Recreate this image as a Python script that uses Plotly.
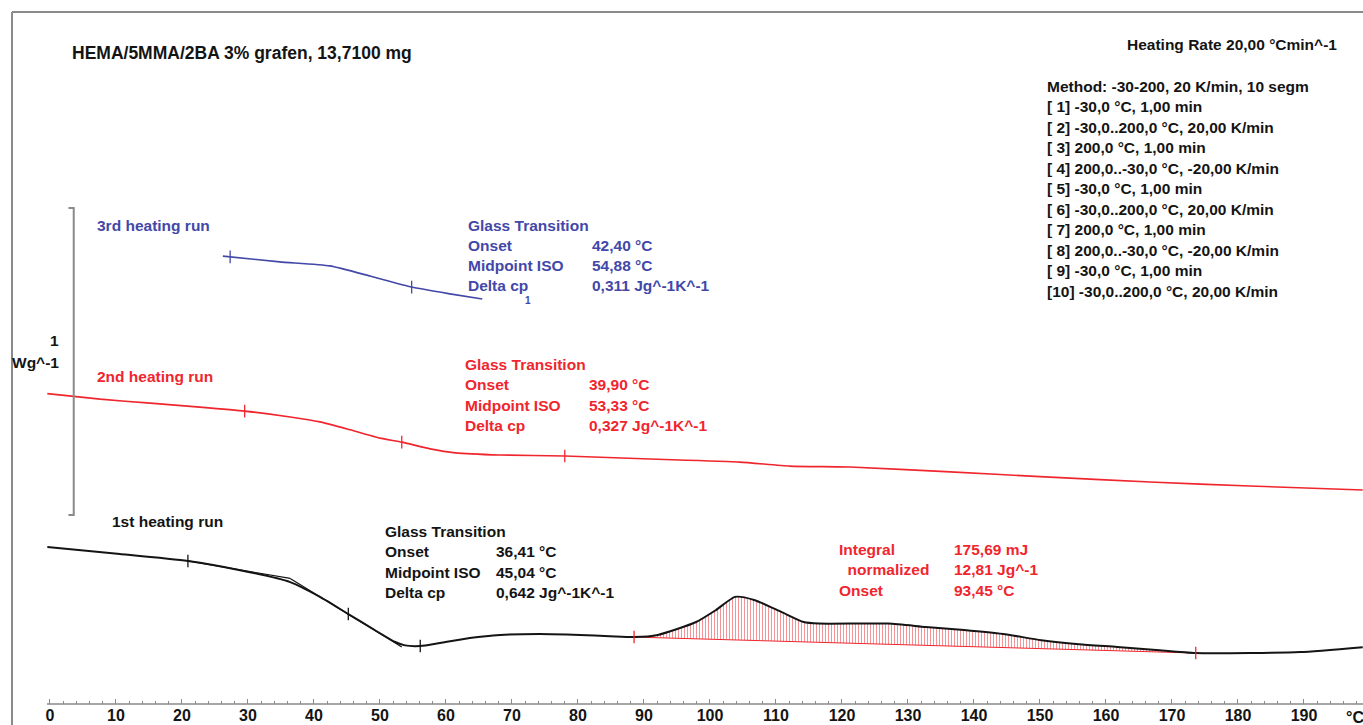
import numpy as np
import plotly.graph_objects as go

# ---- DSC data: temperature (°C) and heat flow (W/g, curves stacked with offsets) ----
run1_T = [-0.4, 10.6, 20.9, 28.8, 36.4, 40.9, 45.2, 49.2, 52.3, 53.8, 56.1, 59.1, 63.6,
          68.2, 74.2, 80.3, 84.8, 88.5, 92.1, 97.9, 100.9, 103.8, 106.7, 110.8, 114.2,
          116.5, 127.0, 132.7, 138.5, 144.4, 150.2, 155.9, 161.7, 167.6, 173.6, 181.8,
          189.4, 198.9]
run1_HF = [0.511, 0.489, 0.466, 0.436, 0.397, 0.349, 0.293, 0.241, 0.202, 0.191, 0.189,
           0.199, 0.215, 0.225, 0.228, 0.225, 0.221, 0.218, 0.225, 0.267, 0.306, 0.349,
           0.339, 0.300, 0.267, 0.262, 0.262, 0.251, 0.241, 0.228, 0.208, 0.195, 0.186,
           0.176, 0.166, 0.166, 0.169, 0.185]

run2_T = [-0.4, 7.6, 15.2, 22.7, 29.5, 36.4, 40.9, 45.5, 50.0, 53.3, 57.6, 61.4, 68.2,
          78.0, 90.9, 104.5, 112.1, 121.2, 136.4, 151.5, 166.7, 181.8, 198.9]
run2_HF = [1.011, 0.993, 0.980, 0.967, 0.954, 0.935, 0.919, 0.893, 0.866, 0.853, 0.831,
           0.818, 0.811, 0.808, 0.798, 0.788, 0.775, 0.772, 0.756, 0.739, 0.723, 0.710,
           0.697]

run3_T = [26.2, 34.8, 42.4, 48.5, 54.8, 60.6, 65.5]
run3_HF = [1.459, 1.440, 1.427, 1.394, 1.358, 1.336, 1.319]

# evaluation marks (°C) placed on each curve
run1_marks = [20.9, 45.2, 56.1]
run2_marks = [29.5, 53.3, 78.0]
run3_marks = [27.3, 54.8]
peak_limits = [88.5, 173.6]
peak_baseline_HF = [0.218, 0.166]

# Tg construction lines of the 1st run
run1_base_T, run1_base_HF = [20.9, 36.4], [0.466, 0.409]
run1_tan_T, run1_tan_HF = [36.4, 53.3], [0.409, 0.186]

# scale bar: 1 W/g
bar_T = 3.6
bar_HF = [0.616, 1.616]

x_ticks = list(range(0, 200, 10))
x_ticklabels = [str(v) for v in x_ticks]

method_lines = [
    "Method: -30-200, 20 K/min, 10 segm",
    "[ 1] -30,0 °C, 1,00 min",
    "[ 2] -30,0..200,0 °C, 20,00 K/min",
    "[ 3] 200,0 °C, 1,00 min",
    "[ 4] 200,0..-30,0 °C, -20,00 K/min",
    "[ 5] -30,0 °C, 1,00 min",
    "[ 6] -30,0..200,0 °C, 20,00 K/min",
    "[ 7] 200,0 °C, 1,00 min",
    "[ 8] 200,0..-30,0 °C, -20,00 K/min",
    "[ 9] -30,0 °C, 1,00 min",
    "[10] -30,0..200,0 °C, 20,00 K/min",
]

gt_labels = ["Glass Transition", "Onset", "Midpoint ISO", "Delta cp"]
gt3_values = ["", "42,40 °C", "54,88 °C", "0,311 Jg^-1K^-1"]
gt2_values = ["", "39,90 °C", "53,33 °C", "0,327 Jg^-1K^-1"]
gt1_values = ["", "36,41 °C", "45,04 °C", "0,642 Jg^-1K^-1"]
int_labels = ["Integral", "  normalized", "Onset"]
int_values = ["175,69 mJ", "12,81 Jg^-1", "93,45 °C"]

BLACK = "#141414"
RED = "#f0262e"
BLUE = "#4348a8"
GREY = "#8a8a8a"
FONT = "Liberation Sans, Arial, sans-serif"
FS = 15.5

W, H = 1363, 725
ML, MB = 47, 21
PLOT_H = H - MB


def px(x):
    return (x - ML) / (W - ML)


def py(y):
    return (PLOT_H - y) / PLOT_H


fig = go.Figure()

# integration area of the 1st-run peak (hatched)
seg = [(t, h) for t, h in zip(run1_T, run1_HF) if peak_limits[0] <= t <= peak_limits[1]]
fig.add_trace(go.Scatter(x=peak_limits, y=peak_baseline_HF, mode="lines",
                         line=dict(color=RED, width=1), hoverinfo="skip"))
fig.add_trace(go.Scatter(x=[s[0] for s in seg], y=[s[1] for s in seg], mode="lines",
                         line=dict(width=0, shape="spline", smoothing=0.6),
                         fill="tonexty", fillcolor="rgba(0,0,0,0)",
                         fillpattern=dict(shape="|", fgcolor=RED, bgcolor="rgba(0,0,0,0)",
                                          size=3, solidity=0.35),
                         hoverinfo="skip"))

# construction lines
fig.add_trace(go.Scatter(x=run1_base_T, y=run1_base_HF, mode="lines",
                         line=dict(color=BLACK, width=1.2)))
fig.add_trace(go.Scatter(x=run1_tan_T, y=run1_tan_HF, mode="lines",
                         line=dict(color=BLACK, width=1.2)))

# curves
fig.add_trace(go.Scatter(x=run1_T, y=run1_HF, mode="lines",
                         line=dict(color=BLACK, width=2, shape="spline", smoothing=0.6)))
fig.add_trace(go.Scatter(x=run2_T, y=run2_HF, mode="lines",
                         line=dict(color=RED, width=1.6, shape="spline", smoothing=0.5)))
fig.add_trace(go.Scatter(x=run3_T, y=run3_HF, mode="lines",
                         line=dict(color=BLUE, width=1.6, shape="spline", smoothing=0.5)))


# small evaluation ticks on the curves
def marks(ts, xs, ys, color):
    fig.add_trace(go.Scatter(x=ts, y=np.interp(ts, xs, ys), mode="markers",
                             marker=dict(symbol="line-ns", size=9,
                                         line=dict(color=color, width=1.3))))


marks(run1_marks, run1_T, run1_HF, BLACK)
marks(run2_marks, run2_T, run2_HF, RED)
marks(run3_marks, run3_T, run3_HF, BLUE)
marks(peak_limits, peak_limits, peak_baseline_HF, RED)

# scale bar with hooks
hook = 0.8
fig.add_trace(go.Scatter(x=[bar_T - hook, bar_T, bar_T, bar_T - hook],
                         y=[bar_HF[1], bar_HF[1], bar_HF[0], bar_HF[0]], mode="lines",
                         line=dict(color=GREY, width=2)))

ann = []


def text(x, y, s, color=BLACK, size=FS, anchor="left"):
    ann.append(dict(x=px(x), y=py(y), xref="paper", yref="paper", text=s,
                    showarrow=False, xanchor=anchor, yanchor="middle",
                    font=dict(family=FONT, size=size, color=color, weight="bold")))


text(70, 53, "HEMA/5MMA/2BA 3% grafen, 13,7100 mg", size=17.5)
text(1125, 44, "Heating Rate 20,00 °Cmin^-1")
for i, line in enumerate(method_lines):
    text(1045, 86 + i * 20.5, line)

text(95, 225, "3rd heating run", BLUE)
text(95, 376, "2nd heating run", RED)
text(110, 521, "1st heating run", BLACK)

for i, (lab, v3, v2, v1) in enumerate(zip(gt_labels, gt3_values, gt2_values, gt1_values)):
    text(466, 225 + i * 20.3, lab, BLUE)
    text(590, 225 + i * 20.3, v3, BLUE)
    text(463, 364 + i * 20.6, lab, RED)
    text(587, 364 + i * 20.6, v2, RED)
    text(383, 531 + i * 20.6, lab, BLACK)
    text(494, 531 + i * 20.6, v1, BLACK)

for i, (lab, val) in enumerate(zip(int_labels, int_values)):
    text(837, 549 + i * 20.5, lab, RED)
    text(952, 549 + i * 20.5, val, RED)

text(528, 300, "1", BLUE, size=10, anchor="center")
text(61, 340, "1", BLACK, anchor="right")
text(61, 362, "Wg^-1", BLACK, anchor="right")
text(1344, 717, "°C", BLACK, size=16)

shapes = [
    # outer frame
    dict(type="line", xref="paper", yref="paper", x0=px(12), x1=px(1363), y0=py(12), y1=py(12),
         line=dict(color=GREY, width=2)),
    dict(type="line", xref="paper", yref="paper", x0=px(12), x1=px(12), y0=py(12), y1=py(725),
         line=dict(color=GREY, width=2)),
    # temperature axis line
    dict(type="line", xref="paper", yref="paper", x0=0, x1=1, y0=0, y1=0,
         line=dict(color=GREY, width=1.5)),
]

fig.update_layout(
    width=W, height=H,
    margin=dict(l=ML, r=0, t=0, b=MB),
    paper_bgcolor="white", plot_bgcolor="white",
    showlegend=False,
    annotations=ann, shapes=shapes,
    xaxis=dict(range=[-0.45, 198.94], showgrid=False, zeroline=False, showline=False,
               tickmode="array", tickvals=x_ticks, ticktext=x_ticklabels,
               ticks="inside", ticklen=5, tickcolor=GREY, tickwidth=1,
               minor=dict(ticks="inside", ticklen=3, tickcolor=GREY, dtick=2, tick0=0),
               tickfont=dict(family=FONT, size=16, color=BLACK, weight="bold")),
    yaxis=dict(range=[0, PLOT_H / 307], visible=False, fixedrange=True),
)

fig.write_html("out.html")
